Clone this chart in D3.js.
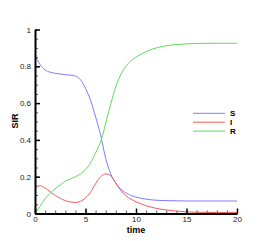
<!DOCTYPE html>
<html lang="en">
<head>
<meta charset="UTF-8">
<title>SIR</title>
<style>
    body { margin: 0; background: #fff; }
    svg text { font-family: "Liberation Sans", Arial, sans-serif; }
</style>
</head>
<body>
<div id="chart"></div>
<script src="https://d3js.org/d3.v7.min.js"></script>
<script>
    // values
    const time = [0, 0.5, 1, 1.5, 2, 2.5, 3, 3.5, 4, 4.5, 5, 5.5, 6, 6.5, 7, 7.5, 8, 8.5, 9, 9.5, 10,
                  11, 12, 13, 14, 15, 16, 17, 18, 19, 20]
    const S = [0.86, 0.81, 0.78, 0.768, 0.762, 0.758, 0.755, 0.752, 0.747, 0.727, 0.68, 0.615, 0.525,
               0.425, 0.3, 0.215, 0.165, 0.132, 0.112, 0.098, 0.089,
               0.078, 0.072, 0.07, 0.069, 0.068, 0.068, 0.068, 0.068, 0.068, 0.068]
    const I = [0.14, 0.151, 0.138, 0.118, 0.098, 0.082, 0.07, 0.063, 0.06, 0.066, 0.085, 0.115, 0.162,
               0.2, 0.215, 0.205, 0.165, 0.125, 0.097, 0.078, 0.064,
               0.042, 0.028, 0.019, 0.013, 0.009, 0.007, 0.006, 0.005, 0.005, 0.005]
    const R = [0, 0.04, 0.08, 0.11, 0.135, 0.155, 0.175, 0.188, 0.2, 0.215, 0.24, 0.275, 0.33,
               0.39, 0.49, 0.595, 0.69, 0.755, 0.8, 0.83, 0.85,
               0.88, 0.9, 0.912, 0.918, 0.922, 0.924, 0.925, 0.925, 0.925, 0.925]
    const seriesNames = ['S', 'I', 'R']
    const xTicks = [0, 5, 10, 15, 20]
    const yTicks = [0, 0.2, 0.4, 0.6, 0.8, 1]

    const width = 270
    const height = 241
    const plotLeft = 35, plotRight = 237, plotTop = 29.5, plotBottom = 213.5
    const colors = { S: '#7d7dff', I: '#f25c5c', R: '#5cdc5c' }
    const seriesData = { S: S, I: I, R: R }

    const x = d3.scaleLinear().domain([0, 20]).range([plotLeft, plotRight])
    const y = d3.scaleLinear().domain([0, 1]).range([plotBottom, plotTop])

    const svg = d3.select('#chart')
        .append('svg')
        .attr('width', width)
        .attr('height', height)

    // minor ticks
    svg.append('g')
        .attr('transform', `translate(0, ${plotBottom})`)
        .call(d3.axisBottom(x).tickValues(d3.range(0, 21, 1)).tickSize(-3).tickSizeOuter(0).tickFormat(''))
        .call(g => g.select('.domain').remove())
        .call(g => g.selectAll('line').attr('stroke', '#555'))
    svg.append('g')
        .attr('transform', `translate(${plotLeft}, 0)`)
        .call(d3.axisLeft(y).tickValues(d3.range(0, 1.001, 0.05)).tickSize(-3).tickSizeOuter(0).tickFormat(''))
        .call(g => g.select('.domain').remove())
        .call(g => g.selectAll('line').attr('stroke', '#555'))

    // curves
    const line = d3.line()
        .x((d, i) => x(time[i]))
        .y(d => y(d))
        .curve(d3.curveMonotoneX)

    seriesNames.forEach(name => {
        svg.append('path')
            .attr('fill', 'none')
            .attr('stroke', colors[name])
            .attr('stroke-width', 1)
            .attr('d', line(seriesData[name]))
    })

    // major axes
    const xAxis = svg.append('g')
        .attr('transform', `translate(0, ${plotBottom})`)
        .call(d3.axisBottom(x).tickValues(xTicks).tickSize(-5).tickSizeOuter(0).tickPadding(3).tickFormat(d3.format('d')))
    const yAxis = svg.append('g')
        .attr('transform', `translate(${plotLeft}, 0)`)
        .call(d3.axisLeft(y).tickValues(yTicks).tickSize(-5).tickSizeOuter(0).tickPadding(4)
            .tickFormat(d => d === 0 || d === 1 ? d3.format('d')(d) : d3.format('.1f')(d)))
    ;[xAxis, yAxis].forEach(g => {
        g.select('.domain').attr('stroke', '#000').attr('stroke-width', 2)
        g.selectAll('.tick line').attr('stroke', '#000').attr('stroke-width', 1.5)
        g.selectAll('.tick text').attr('fill', '#222').style('font-size', '8px')
    })

    // axis titles
    svg.append('text')
        .attr('x', 136)
        .attr('y', 232.5)
        .attr('text-anchor', 'middle')
        .style('font-size', '9px')
        .style('font-weight', 'bold')
        .text('time')
    svg.append('text')
        .attr('transform', 'translate(18, 121) rotate(-90)')
        .attr('text-anchor', 'middle')
        .style('font-size', '9px')
        .style('font-weight', 'bold')
        .text('SIR')

    // legend
    const legend = svg.append('g')
    seriesNames.forEach((name, i) => {
        const ly = 113.3 + i * 8.9
        legend.append('line')
            .attr('x1', 193).attr('x2', 225)
            .attr('y1', ly).attr('y2', ly)
            .attr('stroke', colors[name])
            .attr('stroke-width', 1)
        legend.append('text')
            .attr('x', 230)
            .attr('y', ly)
            .attr('dy', '0.35em')
            .style('font-size', '8px')
            .style('font-weight', 'bold')
            .text(name)
    })
</script>
</body>
</html>
